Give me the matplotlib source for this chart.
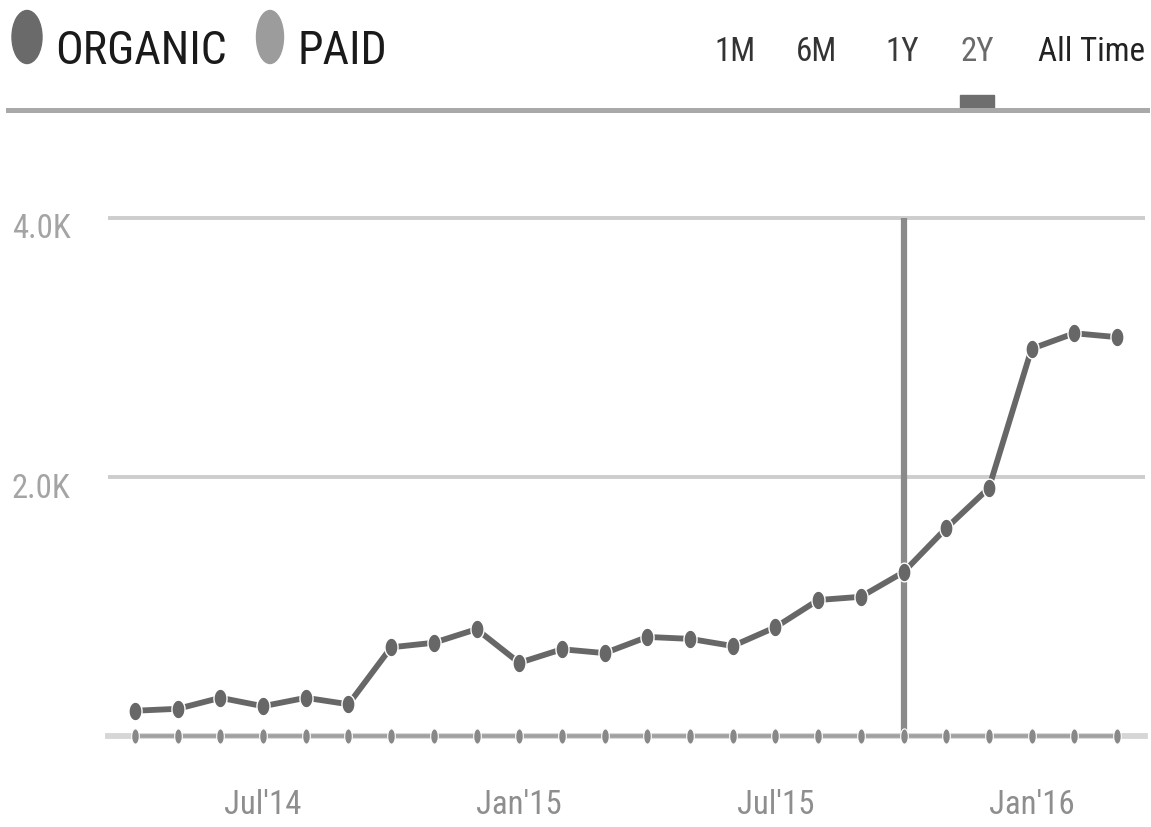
import numpy as np
import matplotlib
matplotlib.use('Agg')
import matplotlib.pyplot as plt
from matplotlib import font_manager
from matplotlib.patches import Ellipse, Rectangle
from matplotlib.lines import Line2D
from matplotlib.transforms import ScaledTranslation

# data (monthly, Apr'14 .. Mar'16)
months = ["Apr'14", "May'14", "Jun'14", "Jul'14", "Aug'14", "Sep'14",
          "Oct'14", "Nov'14", "Dec'14", "Jan'15", "Feb'15", "Mar'15",
          "Apr'15", "May'15", "Jun'15", "Jul'15", "Aug'15", "Sep'15",
          "Oct'15", "Nov'15", "Dec'15", "Jan'16", "Feb'16", "Mar'16"]
organic = [195, 210, 295, 230, 295, 245, 685, 720, 825, 565, 670, 640,
           765, 750, 695, 840, 1050, 1075, 1265, 1605, 1915, 2990, 3110, 3080]
paid = [0, 0, 0, 0, 0, 0, 0, 0, 0, 0, 0, 0,
        0, 0, 0, 0, 0, 0, 0, 0, 0, 0, 0, 0]
tick_months = ["Jul'14", "Jan'15", "Jul'15", "Jan'16"]
y_ticks = [2000, 4000]
y_tick_labels = ['2.0K', '4.0K']
legend_names = ['ORGANIC', 'PAID']
ranges = ['1M', '6M', '1Y', '2Y', 'All Time']
selected_range = '2Y'
hover_month = "Oct'15"

W, H = 1151, 827

# pick a narrow font if there is one
names = {f.name for f in font_manager.fontManager.ttflist}
family = 'DejaVu Sans'
for cand in ['Liberation Sans Narrow', 'Roboto Condensed', 'Open Sans Condensed',
             'DejaVu Sans Condensed', 'Liberation Sans']:
    if cand in names:
        family = cand
        break

fig = plt.figure(figsize=(W / 100, H / 100), dpi=100)
fig.patch.set_facecolor('white')
renderer = fig.canvas.get_renderer()


def fit_size(s, width_px, size0=20):
    t = fig.text(0, 0, s, fontsize=size0, family=family)
    w = t.get_window_extent(renderer).width
    t.remove()
    return size0 * width_px / w


# plot area
top_px, bot_px, left_px, right_px = 205, 736, 108, 1145
ax = fig.add_axes([left_px / W, 1 - bot_px / H, (right_px - left_px) / W, (bot_px - top_px) / H])
x = np.arange(len(months))
step = (1117 - 135) / (len(months) - 1)
ax.set_xlim(-(135 - left_px) / step, len(months) - 1 + (right_px - 1117) / step)
ax.set_ylim(0, 4000 * (bot_px - top_px) / (bot_px - 218))

for s in ['top', 'right', 'left']:
    ax.spines[s].set_visible(False)
ax.spines['bottom'].set_color('#d6d6d6')
ax.spines['bottom'].set_linewidth(4.2)
ax.spines['bottom'].set_zorder(1)

ax.set_yticks(y_ticks, y_tick_labels)
ax.yaxis.grid(True, color='#cdcdcd', lw=2.8)
ax.set_axisbelow(True)
ax.set_xticks([months.index(m) for m in tick_months], tick_months)
ax.tick_params(length=0)

tick_size = fit_size("Jul'14", 77)
ax.tick_params(axis='y', pad=27, labelsize=tick_size, labelcolor='#a4a4a4')
ax.tick_params(axis='x', pad=38, labelsize=tick_size, labelcolor='#8e8e8e')
for lab in ax.get_xticklabels() + ax.get_yticklabels():
    lab.set_family(family)
for lab in ax.get_yticklabels():
    lab.set_transform(lab.get_transform() + ScaledTranslation(0, -0.08, fig.dpi_scale_trans))

# hover crosshair
ax.vlines(months.index(hover_month), 0, 4000, color='#8a8a8a', lw=4.5, zorder=1.5)

t = np.linspace(0, 2 * np.pi, 40)
oval = list(zip(0.7 * np.cos(t), np.sin(t)))
narrow_oval = list(zip(0.5 * np.cos(t), np.sin(t)))

# paid
ax.plot(x, paid, color='#a0a0a0', lw=2.6, zorder=2, clip_on=False)
ax.plot(x, paid, ls='none', marker=narrow_oval, ms=11, mfc='#888888',
        mec='white', mew=0.8, zorder=2.1, clip_on=False)

# organic
ax.plot(x, organic, color='#676767', lw=4.2, solid_joinstyle='round',
        solid_capstyle='round', zorder=3)
ax.plot(x, organic, ls='none', marker=oval, ms=13.5, mfc='#676767',
        mec='white', mew=1.0, zorder=3.1)

# legend
fig.add_artist(Ellipse((27 / W, 1 - 37 / H), 30 / W, 53 / H, transform=fig.transFigure,
                       color='#6a6a6a'))
fig.add_artist(Ellipse((270 / W, 1 - 37 / H), 27 / W, 53 / H, transform=fig.transFigure,
                       color='#9c9c9c'))
leg_size = fit_size(legend_names[0], 172)
fig.text(55 / W, 1 - 64 / H, legend_names[0], fontsize=leg_size, family=family,
         color='#1a1a1a', ha='left', va='baseline')
fig.text(298 / W, 1 - 64 / H, legend_names[1], fontsize=leg_size, family=family,
         color='#1a1a1a', ha='left', va='baseline')

# range buttons
btn_size = fit_size(ranges[-1], 107)
btn_x = [735, 816, 902, 977, 1091.5]
btn_colors = ['#333333', '#333333', '#3a3a3a', '#6a6a6a', '#222222']
for name, bx, bc in zip(ranges, btn_x, btn_colors):
    fig.text(bx / W, 1 - 61 / H, name, fontsize=btn_size, family=family,
             color=bc, ha='center', va='baseline')

# separator and selected marker
fig.add_artist(Line2D([8 / W, 1147 / W], [1 - 109.5 / H] * 2, transform=fig.transFigure,
                      color='#a9a9a9', lw=3.6))
sel_x = btn_x[ranges.index(selected_range)]
fig.add_artist(Rectangle(((sel_x - 17) / W, 1 - 108 / H), 34 / W, 13 / H,
                         transform=fig.transFigure, color='#6e6e6e'))

fig.savefig('out.png', dpi=100)
